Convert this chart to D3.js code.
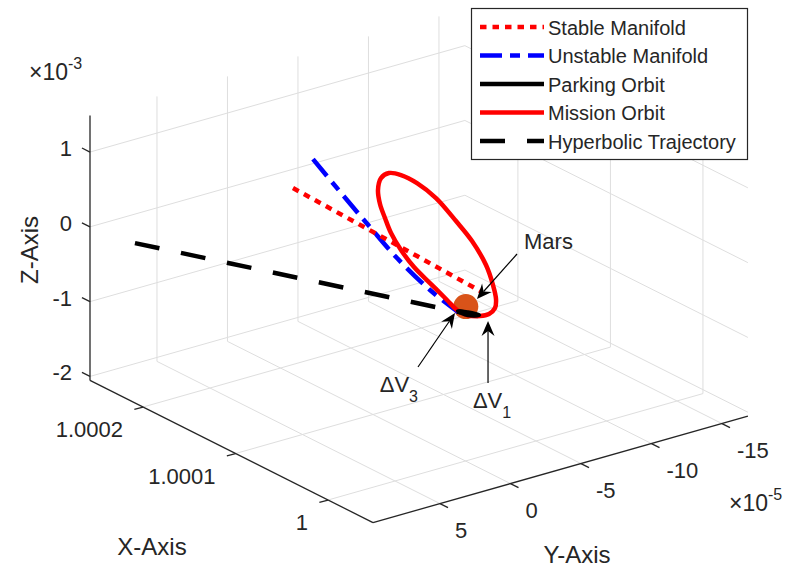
<!DOCTYPE html>
<html lang="en">
<head>
<meta charset="UTF-8">
<title>Mars mission trajectories</title>
<script src="https://d3js.org/d3.v7.min.js"></script>
<style>
  body { margin: 0; background: #fff; }
  text { font-family: "Liberation Sans", Arial, Helvetica, sans-serif; fill: #262626; }
</style>
</head>
<body>
<div id="chart"></div>
<script>
// axis limits and ticks (normalized Sun-Mars units)
var xLim = [0.9999514, 1.0002573],
    yLim = [-16.84e-5, 9.75e-5],
    zLim = [-2.053e-3, 1.49e-3];
var xTicks = [1, 1.0001, 1.0002],
    yTicks = [-15e-5, -10e-5, -5e-5, 0, 5e-5],
    zTicks = [-2e-3, -1e-3, 0, 1e-3];
var xTickLabels = ["1", "1.0001", "1.0002"],
    yTickLabels = ["-15", "-10", "-5", "0", "5"],
    zTickLabels = ["-2", "-1", "0", "1"];

var seriesNames = ["Stable Manifold", "Unstable Manifold", "Parking Orbit", "Mission Orbit", "Hyperbolic Trajectory"];

// Mars position
var marsX = [0.99999968], marsY = [0], marsZ = [0];

// stable manifold
var stableX = [1.00018649, 1.00011946, 1.00005243, 0.99998216],
    stableY = [0, 0, 0, 0],
    stableZ = [0.437e-3, 0.399e-3, 0.361e-3, 0.317e-3];

// unstable manifold
var unstableX = [1.00016486, 1.00013351, 1.00010324, 1.00007405, 1.00003838, 1.00000811],
    unstableY = [0, 0, 0, 0, 0, 0],
    unstableZ = [0.959e-3, 0.686e-3, 0.433e-3, 0.200e-3, -0.006e-3, -0.112e-3];

// parking orbit
var parkingX = [1.00000811, 0.99999730, 0.99998540, 0.99999730],
    parkingY = [0, 0, 0, 0],
    parkingZ = [-0.0985e-3, -0.0514e-3, -0.0108e-3, -0.0848e-3];

// mission orbit
var missionX = [0.99999838, 0.99998432, 0.99997459, 0.99996811, 0.99996703, 0.99997027,
                0.99997784, 0.99999297, 1.00001027, 1.00003189, 1.00005243, 1.00006973,
                1.00008270, 1.00009135, 1.00009459, 1.00009243, 1.00008703, 1.00008054,
                1.00006973, 1.00005568, 1.00003730, 1.00002000, 1.00000919],
    missionY = [0, 0, 0, 0, 0, 0, 0, 0, 0, 0, 0, 0, 0, 0, 0, 0, 0, 0, 0, 0, 0, 0, 0],
    missionZ = [-0.0915e-3, -0.0175e-3, 0.0697e-3, 0.190e-3, 0.317e-3, 0.484e-3,
                0.705e-3, 0.931e-3, 1.091e-3, 1.264e-3, 1.337e-3, 1.337e-3,
                1.283e-3, 1.162e-3, 0.982e-3, 0.808e-3, 0.654e-3, 0.494e-3,
                0.334e-3, 0.194e-3, 0.081e-3, -0.025e-3, -0.092e-3];

// hyperbolic trajectory
var hyperX = [1.0002174, 1.0001594, 1.0001006, 1.0000420, 0.9999833],
    hyperY = [9.18e-5, 6.96e-5, 4.72e-5, 2.46e-5, 0.21e-5],
    hyperZ = [0, 0, 0, 0, 0];

// text arrows, normalized figure units like MATLAB annotation ([tail, head])
var arrowNames = ["Mars", "\u0394V|3", "\u0394V|1"],
    arrowX = [[0.6495, 0.5992], [0.5251, 0.5716], [0.6131, 0.6131]],
    arrowY = [[0.5520, 0.4727], [0.3527, 0.4480], [0.3245, 0.4339]];

var width = 796, height = 567;

var svg = d3.select("#chart").append("svg")
    .attr("width", width)
    .attr("height", height);

// 3-D view: each axis mapped to 0..1, then onto the box edges on screen
var xs = d3.scaleLinear().domain(xLim).range([0, 1]),
    ys = d3.scaleLinear().domain(yLim).range([0, 1]),
    zs = d3.scaleLinear().domain(zLim).range([0, 1]);
var origin = [747.9, 416.2],   // (xmin, ymin, zmin)
    ex = [-283.0, -142.2],
    ey = [-374.9, 106.4],
    ez = [0, -265.0];

function proj(x, y, z) {
    var a = xs(x), b = ys(y), c = zs(z);
    return [origin[0] + a * ex[0] + b * ey[0] + c * ez[0],
            origin[1] + a * ex[1] + b * ey[1] + c * ez[1]];
}
function points(X, Y, Z) {
    return X.map(function(d, i) { return proj(d, Y[i], Z[i]); });
}

// grid lines on the three back planes
var grid = [];
xTicks.forEach(function(t) {
    grid.push([[t, yLim[0], zLim[0]], [t, yLim[1], zLim[0]]]);
    grid.push([[t, yLim[0], zLim[0]], [t, yLim[0], zLim[1]]]);
});
yTicks.forEach(function(t) {
    grid.push([[xLim[0], t, zLim[0]], [xLim[1], t, zLim[0]]]);
    grid.push([[xLim[1], t, zLim[0]], [xLim[1], t, zLim[1]]]);
});
zTicks.forEach(function(t) {
    grid.push([[xLim[1], yLim[0], t], [xLim[1], yLim[1], t]]);
    grid.push([[xLim[0], yLim[0], t], [xLim[1], yLim[0], t]]);
});

svg.append("g").selectAll("line")
    .data(grid)
    .join("line")
    .attr("x1", function(d) { return proj(d[0][0], d[0][1], d[0][2])[0]; })
    .attr("y1", function(d) { return proj(d[0][0], d[0][1], d[0][2])[1]; })
    .attr("x2", function(d) { return proj(d[1][0], d[1][1], d[1][2])[0]; })
    .attr("y2", function(d) { return proj(d[1][0], d[1][1], d[1][2])[1]; })
    .attr("stroke", "#dedede")
    .attr("stroke-width", 1);

// axis lines
var axisColor = "#262626";
var axes = svg.append("g").attr("stroke", axisColor).attr("stroke-width", 1.3).attr("fill", "none");
var line = d3.line();
axes.append("path").attr("d", line([proj(xLim[0], yLim[1], zLim[0]), proj(xLim[1], yLim[1], zLim[0])]));
axes.append("path").attr("d", line([proj(xLim[0], yLim[0], zLim[0]), proj(xLim[0], yLim[1], zLim[0])]));
axes.append("path").attr("d", line([proj(xLim[1], yLim[1], zLim[0]), proj(xLim[1], yLim[1], zLim[1])]));

// tick directions on screen
function unit(v, len) {
    var n = Math.sqrt(v[0] * v[0] + v[1] * v[1]);
    return [v[0] / n * len, v[1] / n * len];
}
var tZ = unit(ex, 9), tX = unit(ey, 9), tY = unit([-ex[0], -ex[1]], 9);

function ticks(vals, labels, pt, dir, anchor, dx, dy) {
    var g = svg.append("g");
    vals.forEach(function(v, i) {
        var p = pt(v);
        g.append("line")
            .attr("x1", p[0]).attr("y1", p[1])
            .attr("x2", p[0] + dir[0]).attr("y2", p[1] + dir[1])
            .attr("stroke", axisColor).attr("stroke-width", 1.3);
        g.append("text")
            .attr("x", p[0] + dx).attr("y", p[1] + dy)
            .attr("text-anchor", anchor)
            .attr("font-size", 22)
            .text(labels[i]);
    });
}
ticks(xTicks, xTickLabels, function(v) { return proj(v, yLim[1], zLim[0]); }, tX, "end", -20, 30);
ticks(yTicks, yTickLabels, function(v) { return proj(xLim[0], v, zLim[0]); }, tY, "start", 15, 34);
ticks(zTicks, zTickLabels, function(v) { return proj(xLim[1], yLim[1], v); }, tZ, "end", -18, 4);

// exponent labels
function exponent(x, y, p) {
    var t = svg.append("text").attr("x", x).attr("y", y).attr("font-size", 23);
    t.append("tspan").text("\u00d710");
    t.append("tspan").attr("dy", -11).attr("font-size", 16).text(p);
}
exponent(29, 80, "-3");
exponent(729, 511, "-5");

// axis labels
svg.append("text").attr("x", 152).attr("y", 555).attr("text-anchor", "middle").attr("font-size", 24).text("X-Axis");
svg.append("text").attr("x", 577).attr("y", 563).attr("text-anchor", "middle").attr("font-size", 24).text("Y-Axis");
svg.append("text").attr("transform", "translate(38,250) rotate(-90)").attr("text-anchor", "middle").attr("font-size", 24).text("Z-Axis");

// Mars
var m = proj(marsX[0], marsY[0], marsZ[0]);
svg.append("circle").attr("cx", m[0]).attr("cy", m[1] - 1).attr("r", 12.5).attr("fill", "#D95319");

// trajectories
var styles = [
    {color: "#ff0000", dash: "6.5,6"},
    {color: "#0000ff", dash: "22,8,10,8"},
    {color: "#000000", dash: null},
    {color: "#ff0000", dash: null},
    {color: "#000000", dash: "25,22"}
];
var lineW = 4.5;
function draw(pts, st, curve) {
    svg.append("path")
        .attr("d", d3.line().curve(curve)(pts))
        .attr("fill", "none")
        .attr("stroke", st.color)
        .attr("stroke-width", lineW)
        .attr("stroke-dasharray", st.dash);
}
draw(points(hyperX, hyperY, hyperZ), styles[4], d3.curveLinear);
draw(points(unstableX, unstableY, unstableZ), styles[1], d3.curveCatmullRom);
draw(points(stableX, stableY, stableZ), styles[0], d3.curveLinear);
draw(points(missionX, missionY, missionZ), styles[3], d3.curveCatmullRomClosed);
draw(points(parkingX, parkingY, parkingZ), styles[2], d3.curveCatmullRomClosed);

// text arrows
function fig(nx, ny) { return [nx * width, (1 - ny) * height]; }
arrowNames.forEach(function(name, i) {
    var tail = fig(arrowX[i][0], arrowY[i][0]),
        head = fig(arrowX[i][1], arrowY[i][1]);
    var ang = Math.atan2(head[1] - tail[1], head[0] - tail[0]);
    var L = 15, Wd = 6.5, back = 10;
    function rot(px, py) {
        return [head[0] + px * Math.cos(ang) - py * Math.sin(ang),
                head[1] + px * Math.sin(ang) + py * Math.cos(ang)];
    }
    svg.append("path")
        .attr("d", line([tail, rot(-back, 0)]))
        .attr("stroke", "#000").attr("stroke-width", 1.2);
    svg.append("path")
        .attr("d", line([head, rot(-L, -Wd), rot(-back, 0), rot(-L, Wd)]) + "Z")
        .attr("fill", "#000");

    var parts = name.split("|");
    var t = svg.append("text").attr("font-size", 22);
    if (i === 0) {
        t.attr("x", tail[0] + 7).attr("y", tail[1] - 5).attr("text-anchor", "start");
    } else if (i === 1) {
        t.attr("x", tail[0]).attr("y", tail[1] + 25).attr("text-anchor", "end");
    } else {
        t.attr("x", tail[0] + 4).attr("y", tail[1] + 25).attr("text-anchor", "middle");
    }
    t.append("tspan").text(parts[0]);
    if (parts[1]) {
        t.append("tspan").attr("dy", 10).attr("font-size", 16).text(parts[1]);
    }
});

// legend
var lg = svg.append("g");
lg.append("rect")
    .attr("x", 471.5).attr("y", 8.5).attr("width", 276).attr("height", 151)
    .attr("fill", "#fff").attr("stroke", axisColor).attr("stroke-width", 1.2);
seriesNames.forEach(function(name, i) {
    var y = 27 + i * 28.5;
    lg.append("line")
        .attr("x1", 480).attr("x2", 544).attr("y1", y).attr("y2", y)
        .attr("stroke", styles[i].color)
        .attr("stroke-width", lineW)
        .attr("stroke-dasharray", styles[i].dash);
    lg.append("text")
        .attr("x", 548).attr("y", y + 7.5)
        .attr("font-size", 20)
        .text(name);
});
</script>
</body>
</html>
